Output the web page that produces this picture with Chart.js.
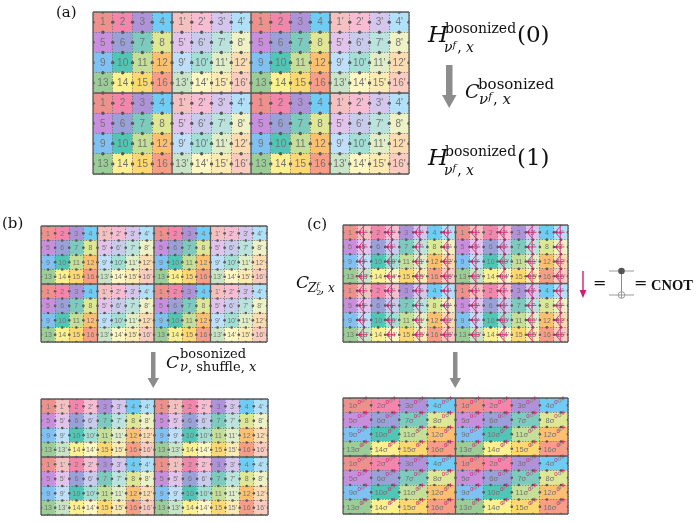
<!DOCTYPE html>
<html>
<head>
<meta charset="utf-8">
<script src="https://cdn.jsdelivr.net/npm/chart.js@4.4.1/dist/chart.umd.min.js"></script>
<style>
body { margin: 0; background: #fff; }
#page { position: relative; width: 697px; height: 523px; overflow: hidden; background: #fff; }
.box { position: absolute; }
.t { position: absolute; white-space: nowrap; font-family: "DejaVu Serif", "Liberation Serif", serif; line-height: 1; color: #111; }
.up { font-size: 0.7em; position: relative; top: -0.45em; }
.ss { display: inline-block; position: relative; width: 0.5em; height: 1em; font-size: 0.68em; }
.ss .a { position: absolute; left: 0; top: -0.35em; }
.ss .b { position: absolute; left: 0; top: 0.55em; }
svg { position: absolute; left: 0; top: 0; }
</style>
</head>
<body>
<div id="page">
  <div class="box" style="left:89px;top:8px"><canvas id="ga" width="324" height="170"></canvas></div>
  <div class="box" style="left:37px;top:222px"><canvas id="gb1" width="234" height="124"></canvas></div>
  <div class="box" style="left:37px;top:395px"><canvas id="gb2" width="235" height="124"></canvas></div>
  <div class="box" style="left:339px;top:221px"><canvas id="gc1" width="233" height="125"></canvas></div>
  <div class="box" style="left:339px;top:394px"><canvas id="gc2" width="233" height="124"></canvas></div>

  <svg width="697" height="523">
    <!-- grey step arrows -->
    <g fill="#8c8c8c">
      <rect x="446" y="65" width="6.5" height="30"/>
      <polygon points="442,95 456.5,95 449.2,108"/>
      <rect x="151" y="352" width="4.5" height="26"/>
      <polygon points="147.5,378 159,378 153.2,388"/>
      <rect x="453" y="352" width="4.5" height="26"/>
      <polygon points="449.5,378 461,378 455.2,388"/>
    </g>
    <!-- CNOT legend -->
    <line x1="583" y1="271" x2="583" y2="292" stroke="#d81b72" stroke-width="1.4"/>
    <polygon points="579.6,290 586.4,290 583,298" fill="#d81b72"/>
    <g stroke="#9a9a9a" stroke-width="1">
      <line x1="609" y1="271" x2="634" y2="271"/>
      <line x1="609" y1="295" x2="634" y2="295"/>
      <line x1="621.5" y1="271" x2="621.5" y2="295" stroke="#8a8a8a"/>
      <circle cx="621.5" cy="295" r="3.3" fill="#fff"/>
      <line x1="618.2" y1="295" x2="624.8" y2="295"/>
      <line x1="621.5" y1="291.7" x2="621.5" y2="298.3"/>
    </g>
    <circle cx="621.5" cy="271" r="3.3" fill="#555"/>
  </svg>
</div>

<script>
// numbers of the 16 sites inside one 4x4 block
const siteNumbers = [1, 2, 3, 4, 5, 6, 7, 8, 9, 10, 11, 12, 13, 14, 15, 16];
// fill colour of site n (unprimed) and of its primed partner n'
const siteColors = ['#ee908c', '#f386aa', '#ae93d9', '#70ccf5',
                    '#c98edd', '#9aa0d8', '#7dcbbf', '#dee793',
                    '#80c1f4', '#4fc6b6', '#c4df97', '#fdc06f',
                    '#9bcd96', '#fdf08e', '#fdd96f', '#f99d87'];
const primedColors = ['#f5c1c0', '#f8bdd2', '#d4c6ec', '#b1e1f9',
                      '#e2c3ec', '#c8cbeb', '#b9e3dc', '#eef2c4',
                      '#bddff9', '#a2e0d6', '#e0eec7', '#fedcb2',
                      '#c9e5c6', '#fff7c2', '#feebb2', '#fccbc0'];

const MAGENTA = '#d81b72';

// how a lattice cell (column c, row r) maps onto a site
const layouts = {
    // 4x4 blocks, every second block is the primed copy
    blocks: (c, r) => ({ n: siteNumbers[(r % 4) * 4 + (c % 4)], primed: Math.floor(c / 4) % 2 === 1 }),
    // n and n' side by side
    shuffled: (c, r) => ({ n: siteNumbers[(r % 4) * 4 + Math.floor((c % 8) / 2)], primed: c % 2 === 1 }),
    // merged pair, labelled n sigma^0
    merged: (c, r) => ({ n: siteNumbers[(r % 4) * 4 + (c % 4)], primed: false, sigma: true })
};

const panels = [
    { id: 'ga',  cols: 16, rows: 8, layout: 'blocks',   bw: 4, bh: 4, font: 10, dot: 1.7 },
    { id: 'gb1', cols: 16, rows: 8, layout: 'blocks',   bw: 4, bh: 4, font: 7,  dot: 1.3 },
    { id: 'gb2', cols: 16, rows: 8, layout: 'shuffled', bw: 8, bh: 4, font: 7,  dot: 1.3 },
    { id: 'gc1', cols: 16, rows: 8, layout: 'shuffled', bw: 8, bh: 4, font: 7,  dot: 1.3, marks: 'cnot' },
    { id: 'gc2', cols: 8,  rows: 8, layout: 'merged',   bw: 4, bh: 4, font: 7.5, dot: 1.3, marks: 'sigma' }
];

// labels, block borders and magenta gate marks
const gridDeco = {
    id: 'gridDeco',
    afterDraw(chart, args, o) {
        const { ctx } = chart;
        const xs = chart.scales.x, ys = chart.scales.y;
        const px = v => xs.getPixelForValue(v);
        const py = v => ys.getPixelForValue(v);
        const seg = (x1, y1, x2, y2) => {
            ctx.beginPath(); ctx.moveTo(px(x1), py(y1)); ctx.lineTo(px(x2), py(y2)); ctx.stroke();
        };
        ctx.save();

        // cell labels
        ctx.textBaseline = 'middle';
        o.cells.forEach(cell => {
            const cx = px(cell.c + 0.5), cy = py(cell.r + 0.5);
            ctx.font = `${o.font}px "Liberation Sans", Arial, sans-serif`;
            ctx.fillStyle = '#737373';
            if (cell.sigma) {
                const main = cell.n + 'σ';
                const w = ctx.measureText(main).width;
                ctx.textAlign = 'left';
                ctx.fillText(main, cx - w / 2 - 4, cy + 1);
                ctx.fillStyle = MAGENTA;
                ctx.font = `${o.font * 0.8}px "Liberation Sans", Arial, sans-serif`;
                ctx.fillText('0', cx + w / 2 - 4, cy - 3);
            } else {
                ctx.textAlign = 'center';
                ctx.fillText(cell.primed ? cell.n + "'" : String(cell.n), cx, cy + 0.5);
            }
        });

        // magenta CNOT arrows between n and n'
        if (o.marks === 'cnot') {
            ctx.strokeStyle = MAGENTA;
            ctx.fillStyle = MAGENTA;
            ctx.lineWidth = 0.8;
            for (let p = 1; p < o.cols; p += 2) {
                seg(p + 0.45, -0.05, p + 0.45, o.rows);
                for (let r = 0; r < o.rows; r++) {
                    ctx.beginPath();
                    ctx.moveTo(px(p + 0.45), py(r + 0.1));
                    ctx.lineTo(px(p + 0.1), py(r + 0.5));
                    ctx.lineTo(px(p + 0.45), py(r + 0.9));
                    ctx.stroke();
                    seg(p + 0.75, r + 0.5, p + 0.1, r + 0.5);
                    const hx = px(p + 0.03), hy = py(r + 0.5);
                    ctx.beginPath();
                    ctx.moveTo(hx, hy);
                    ctx.lineTo(hx + 3.2, hy - 1.8);
                    ctx.lineTo(hx + 3.2, hy + 1.8);
                    ctx.closePath();
                    ctx.fill();
                }
            }
        }

        // magenta plus marks of the merged lattice
        if (o.marks === 'sigma') {
            ctx.lineWidth = 0.9;
            for (let c = 0; c < o.cols; c++) {
                for (let r = 0; r < o.rows; r++) {
                    const mx = px(c + 0.82), my = py(r + 0.02);
                    ctx.strokeStyle = MAGENTA;
                    ctx.beginPath();
                    ctx.moveTo(mx - 2, my); ctx.lineTo(mx + 2, my);
                    ctx.moveTo(mx, my - 2); ctx.lineTo(mx, my + 2);
                    ctx.stroke();
                    ctx.strokeStyle = '#8a8a8a';
                    ctx.beginPath();
                    ctx.arc(px(c + 0.7), py(r + 0.2), 1.4, 0, Math.PI * 2);
                    ctx.stroke();
                }
            }
        }

        // solid block borders
        ctx.strokeStyle = '#5c5c5c';
        ctx.lineWidth = 1.3;
        for (let c = 0; c <= o.cols; c += o.bw) seg(c, 0, c, o.rows);
        for (let r = 0; r <= o.rows; r += o.bh) seg(0, r, o.cols, r);
        ctx.restore();
    }
};

function integerTicks(n) {
    return scale => { scale.ticks = Array.from({ length: n + 1 }, (_, i) => ({ value: i })); };
}

function makeGrid(panel) {
    const cells = [];
    for (let r = 0; r < panel.rows; r++) {
        for (let c = 0; c < panel.cols; c++) {
            cells.push(Object.assign({ c, r }, layouts[panel.layout](c, r)));
        }
    }
    const colorOf = cell => (cell.primed ? primedColors : siteColors)[cell.n - 1];

    // dots sit on the middle of every cell edge
    const dots = [];
    for (let c = 0; c <= panel.cols; c++) {
        for (let r = 0; r < panel.rows; r++) dots.push({ x: c, y: r + 0.5 });
    }
    const along = panel.marks === 'sigma' ? [0.25, 0.75] : [0.5];
    for (let r = 0; r <= panel.rows; r++) {
        for (let c = 0; c < panel.cols; c++) along.forEach(f => dots.push({ x: c + f, y: r }));
    }

    const gridStyle = { color: '#6e6e6e', lineWidth: 0.8, drawTicks: false, offset: false, z: 1 };
    const border = { display: false, dash: [1.3, 1.5] };

    new Chart(document.getElementById(panel.id), {
        type: 'bar',
        data: {
            datasets: [
                {
                    type: 'scatter',
                    data: dots,
                    pointRadius: panel.dot,
                    pointBackgroundColor: '#555',
                    pointBorderWidth: 0,
                    order: 0
                },
                {
                    data: cells.map(cell => ({ x: cell.c + 0.5, y: [cell.r, cell.r + 1] })),
                    backgroundColor: cells.map(colorOf),
                    borderWidth: 0,
                    barPercentage: 1,
                    categoryPercentage: 1,
                    grouped: false,
                    order: 1
                }
            ]
        },
        options: {
            responsive: false,
            animation: false,
            events: [],
            layout: { padding: 3 },
            plugins: {
                legend: { display: false },
                tooltip: { enabled: false },
                gridDeco: { cells, cols: panel.cols, rows: panel.rows, bw: panel.bw, bh: panel.bh, font: panel.font, marks: panel.marks }
            },
            scales: {
                x: {
                    type: 'linear', min: 0, max: panel.cols, offset: false,
                    afterBuildTicks: integerTicks(panel.cols),
                    ticks: { display: false }, grid: gridStyle, border
                },
                y: {
                    type: 'linear', min: 0, max: panel.rows, reverse: true, offset: false,
                    afterBuildTicks: integerTicks(panel.rows),
                    ticks: { display: false }, grid: gridStyle, border
                }
            }
        },
        plugins: [gridDeco]
    });
}

panels.forEach(makeGrid);

// text labels, placed by their baseline
const page = document.getElementById('page');
function put(x, base, size, html, family) {
    const d = document.createElement('div');
    d.className = 't';
    d.style.left = x + 'px';
    d.style.top = (base - 0.846 * size) + 'px';
    d.style.fontSize = size + 'px';
    if (family) d.style.fontFamily = family;
    d.innerHTML = html;
    page.appendChild(d);
}
const nuF = '<i>ν</i><span class="up"><i>f</i></span><span style="margin-left:1px">,</span> <i>x</i>';

put(56, 18, 15, '(a)');
put(2, 229, 15, '(b)');
put(307, 230, 15, '(c)');

put(428, 42, 23, '<i>H</i>');
put(445, 33, 14, 'bosonized');
put(444, 52, 14, nuF);
put(517, 42, 23, '(0)');

put(465, 98, 19, '<i>C</i>');
put(478, 90, 15, 'bosonized');
put(479, 105, 15, nuF);

put(428, 165, 23, '<i>H</i>');
put(445, 156, 14, 'bosonized');
put(444, 175, 14, nuF);
put(517, 165, 23, '(1)');

put(166, 368, 17, '<i>C</i>');
put(180, 358, 13, 'bosonized');
put(180, 371, 13, '<i>ν</i>, shuffle, <i>x</i>');

put(296, 288, 17, '<i>C</i>');
put(308, 292, 12, '<i>Z</i><span class="ss"><i class="a">f</i><span class="b">2</span></span>, <i>x</i>');

put(593, 289, 16, '=');
put(634, 289, 16, '=');
put(651, 290, 14.5, '<b>CNOT</b>', '"Liberation Serif", serif');
</script>
</body>
</html>
